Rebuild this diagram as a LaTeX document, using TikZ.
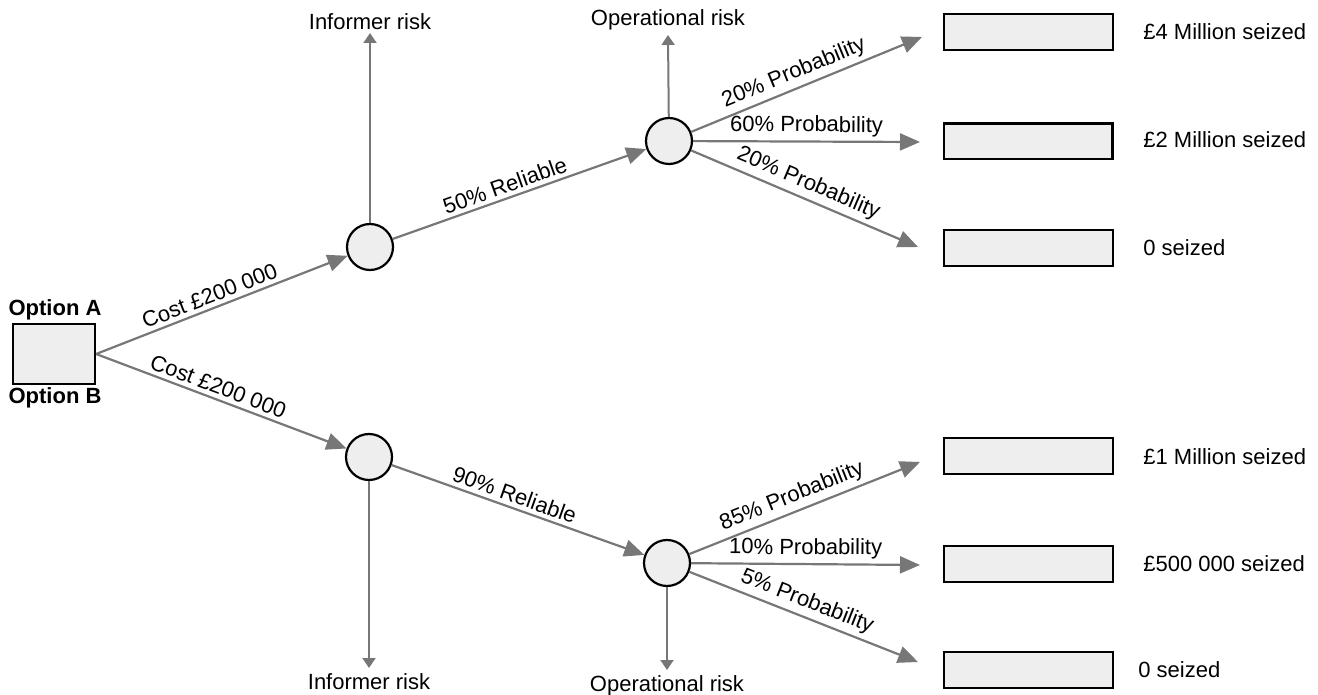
\documentclass[tikz,border=0pt]{standalone}
\usepackage{fontspec}
\setmainfont{Liberation Sans}
\usetikzlibrary{arrows.meta}
\definecolor{lg}{RGB}{119,119,119}
\definecolor{fillg}{RGB}{238,238,238}
\begin{document}
\begin{tikzpicture}[x=0.5pt,y=-0.5pt,
  font=\fontsize{11}{13}\selectfont,
  decnode/.style={draw=black,line width=1.1pt,fill=fillg,circle,minimum size=23pt,inner sep=0pt},
  outbox/.style={draw=black,line width=1.1pt,fill=fillg,rectangle,minimum width=84.4pt,minimum height=17.9pt,inner sep=0pt},
  optbox/.style={draw=black,line width=1.1pt,fill=fillg,rectangle,minimum width=41pt,minimum height=30pt,inner sep=0pt},
  branch/.style={draw=lg,line width=1.1pt,-{Triangle[length=10pt,width=8.5pt]}},
  riskarrow/.style={draw=lg,line width=1pt,-{Triangle[length=5pt,width=6.5pt]}},
  elabel/.style={sloped,above,inner sep=2pt,text=black},
  txt/.style={inner sep=0pt},
]
\useasboundingbox (0,0) rectangle (1318,695);

% root
\node[optbox] (opt) at (54,354) {};
\node[txt,font=\fontsize{11}{13}\selectfont\bfseries] (oa) at (55,310) {Option A};
\node[txt,font=\fontsize{11}{13}\selectfont\bfseries] (ob) at (55,398) {Option B};

% chance nodes
\node[decnode] (c1) at (370,247) {};
\node[decnode] (c2) at (669,141) {};
\node[decnode] (c3) at (369,457) {};
\node[decnode] (c4) at (667,563) {};

% outcome boxes
\node[outbox] (r1) at (1028.5,32) {};
\node[outbox] (r2) at (1028,141.5) {};
\node[outbox] (r3) at (1028.5,248) {};
\node[outbox] (r4) at (1028.5,456) {};
\node[outbox] (r5) at (1028.5,564) {};
\node[outbox] (r6) at (1028.5,670) {};

% outcome labels
\node[txt,anchor=west] (l1) at (1143,32) {£4 Million seized};
\node[txt,anchor=west] (l2) at (1143,140) {£2 Million seized};
\node[txt,anchor=west] (l3) at (1143,248) {0 seized};
\node[txt,anchor=west] (l4) at (1143,457) {£1 Million seized};
\node[txt,anchor=west] (l5) at (1143,564) {£500 000 seized};
\node[txt,anchor=west] (l6) at (1138,670) {0 seized};

% arrow tip coordinates
\coordinate (t1) at (922,37);
\coordinate (t2) at (920,142);
\coordinate (t3) at (918,247);
\coordinate (t4) at (920,462);
\coordinate (t5) at (920,565);
\coordinate (t6) at (918,662);
\coordinate (u1) at (370,33);
\coordinate (u2) at (668,35);
\coordinate (d1) at (369,668);
\coordinate (d2) at (667,670);

% risk labels
\node[txt] (ir1) at (370,22) {Informer risk};
\node[txt] (or1) at (668,20) {Operational risk};
\node[txt] (ir2) at (369,682) {Informer risk};
\node[txt] (or2) at (667,686) {Operational risk};

% connectors
\draw[branch] (opt.east) -- node[elabel,pos=0.47] {Cost £200 000} (c1);
\draw[branch] (opt.east) -- node[elabel,pos=0.47] {Cost £200 000} (c3);
\draw[branch] (c1) -- node[elabel,pos=0.46] {50\% Reliable} (c2);
\draw[branch] (c3) -- node[elabel,pos=0.47] {90\% Reliable} (c4);

\draw[branch] (c2) -- node[elabel,pos=0.47] {20\% Probability} (t1);
\draw[branch] (c2) -- node[elabel,pos=0.5] {60\% Probability} (t2);
\draw[branch] (c2) -- node[elabel,pos=0.49] {20\% Probability} (t3);
\draw[branch] (c4) -- node[elabel,pos=0.47] {85\% Probability} (t4);
\draw[branch] (c4) -- node[elabel,pos=0.5] {10\% Probability} (t5);
\draw[branch] (c4) -- node[elabel,pos=0.49] {5\% Probability} (t6);

\draw[riskarrow] (c1) -- (u1);
\draw[riskarrow] (c2) -- (u2);
\draw[riskarrow] (c3) -- (d1);
\draw[riskarrow] (c4) -- (d2);
\end{tikzpicture}
\end{document}
